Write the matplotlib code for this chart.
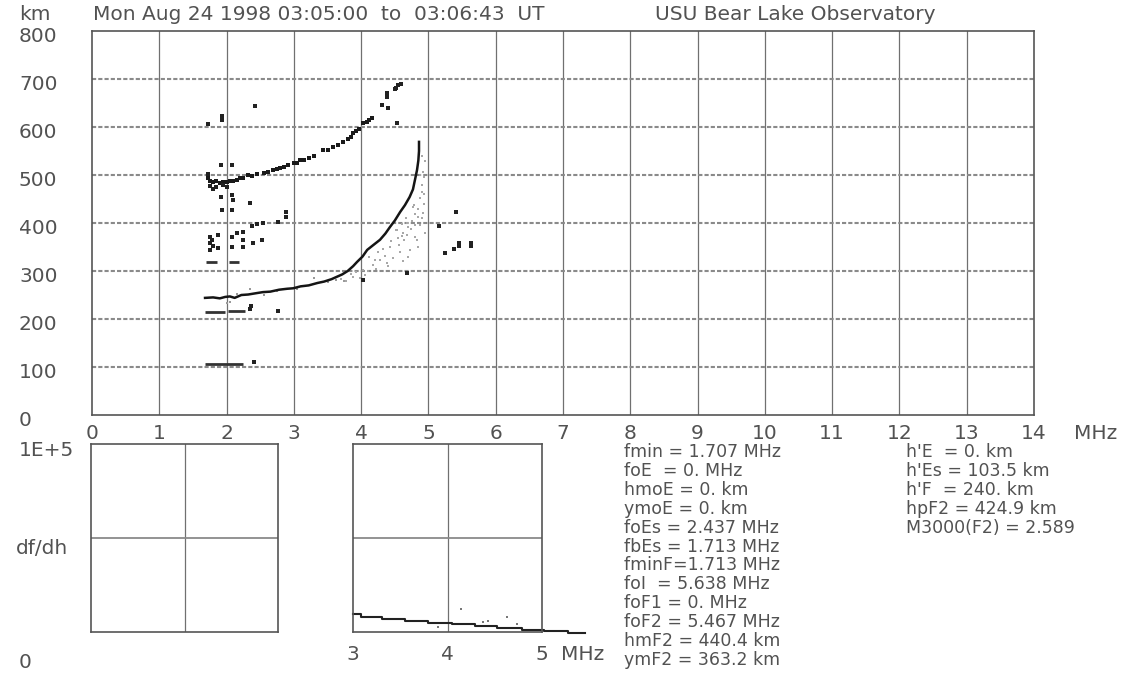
import numpy as np
import matplotlib.pyplot as plt
from matplotlib.transforms import blended_transform_factory

# ionogram: virtual height vs frequency
freq_ticks = list(range(0, 15))
height_ticks = list(range(0, 900, 100))

# main F-layer trace (O mode)
f_trace = [1.68, 1.80, 1.90, 1.98, 2.05, 2.12, 2.22, 2.32, 2.45, 2.54, 2.65, 2.78, 2.90, 2.99, 3.10, 3.22, 3.35,
           3.45, 3.56, 3.64, 3.72, 3.80, 3.88, 3.94, 4.02, 4.09, 4.18, 4.28, 4.36, 4.43, 4.50, 4.58, 4.65, 4.72,
           4.77, 4.80, 4.83, 4.85, 4.86, 4.86]
h_trace = [244, 245, 243, 246, 247, 244, 250, 251, 254, 256, 257, 261, 263, 264, 268, 270, 275,
           278, 283, 288, 293, 300, 310, 319, 330, 344, 354, 365, 378, 392, 405, 423, 437, 454,
           470, 490, 510, 530, 550, 569]

# faint secondary trace around the main one
f_xtrace = [2.00, 2.05, 2.15, 2.35, 2.55, 2.75, 3.05, 3.30, 3.50, 3.62, 3.75]
h_xtrace = [233, 236, 252, 262, 250, 258, 262, 285, 278, 282, 280]

# spread echoes below the F trace
f_spread = [3.70, 3.78, 3.85, 3.88, 3.92, 3.98, 4.03, 4.05, 4.10, 4.12, 4.18, 4.20, 4.25, 4.28, 4.35, 4.38,
            4.40, 4.43, 4.47, 4.50, 4.52, 4.53, 4.55, 4.58, 4.60, 4.62, 4.63, 4.66, 4.68, 4.70, 4.72, 4.75,
            4.77, 4.78, 4.80, 4.83, 4.84, 4.85, 4.88, 4.90, 4.90, 4.92, 4.93, 4.94, 4.95, 4.95, 4.88, 4.90,
            4.92, 4.70, 4.80, 4.62, 4.57, 4.85, 4.22, 4.33, 4.45, 4.60, 4.74, 4.87, 4.93, 4.68, 4.80, 4.91]
h_spread = [283, 280, 293, 288, 298, 286, 302, 292, 300, 330, 313, 322, 340, 323, 332, 317,
            310, 350, 327, 300, 385, 385, 368, 340, 398, 380, 365, 410, 400, 392, 344, 405,
            433, 438, 418, 365, 413, 430, 500, 465, 480, 506, 460, 495, 530, 380, 395, 540,
            420, 330, 370, 320, 355, 350, 305, 345, 362, 372, 388, 452, 440, 375, 395, 410]

# second-hop F trace
f_hop2 = [1.72, 1.76, 1.80, 1.85, 1.90, 1.95, 2.00, 2.05, 2.10, 2.15, 2.20, 2.25, 2.32, 2.38, 2.45, 2.55,
          2.62, 2.69, 2.75, 2.80, 2.86, 2.92, 3.00, 3.05, 3.09, 3.15, 3.22, 3.30, 3.43, 3.50, 3.58, 3.65,
          3.73, 3.80, 3.85, 3.88, 3.93, 3.97, 4.03, 4.08, 4.12, 4.16]
h_hop2 = [494, 487, 485, 488, 484, 486, 485, 488, 487, 490, 493, 494, 500, 497, 502, 505,
          507, 510, 512, 515, 517, 520, 524, 526, 531, 532, 535, 540, 552, 553, 558, 562,
          569, 575, 580, 587, 592, 596, 608, 611, 615, 619]

# isolated echoes
f_dots = [1.75, 1.85, 1.80, 1.95, 2.00, 1.72, 4.31, 4.40, 4.38, 4.38, 4.50, 4.52, 4.59, 4.55, 4.53, 2.42,
          1.72, 1.93, 1.93, 1.92, 2.08, 1.92, 2.08, 2.09, 1.93, 2.08, 2.35, 2.88, 2.88, 2.77, 2.54,
          2.38, 2.45, 2.24, 2.15, 2.08, 2.53, 2.40, 2.25, 2.25, 2.08, 1.75, 1.87, 1.75, 1.78, 1.75,
          1.87, 1.80, 2.35, 2.77, 2.36, 2.41, 5.41, 5.16, 5.25, 5.38, 5.45, 5.45, 5.63, 5.63, 4.68,
          4.03]
h_dots = [478, 474, 470, 480, 476, 502, 646, 640, 663, 670, 679, 682, 690, 687, 608, 644,
          606, 615, 622, 521, 521, 454, 458, 448, 427, 427, 442, 423, 413, 402, 400,
          394, 397, 381, 379, 371, 365, 358, 365, 350, 350, 371, 375, 358, 364, 344,
          348, 352, 221, 217, 228, 110, 423, 394, 338, 346, 358, 352, 358, 352, 296,
          281]

# sporadic-E traces (start, end, height)
es_segments = [(1.68, 2.25, 106), (1.68, 1.97, 215), (2.02, 2.27, 216), (1.70, 1.86, 319), (2.04, 2.18, 319)]

# df/dh profile panel
f_dfdh = [3.00, 3.08, 3.31, 3.55, 3.79, 4.05, 4.29, 4.52, 4.79, 5.02, 5.27, 5.46]
v_dfdh = [9600, 8000, 6900, 5900, 4800, 4300, 3200, 2100, 1100, 500, -500, -500]
f_dfdh_dots = [4.14, 3.90, 4.38, 4.43, 4.63, 4.74]
v_dfdh_dots = [12200, 2700, 5300, 5900, 8000, 4300]

params_left = ["fmin = 1.707 MHz", "foE  = 0. MHz", "hmoE = 0. km", "ymoE = 0. km", "foEs = 2.437 MHz",
               "fbEs = 1.713 MHz", "fminF=1.713 MHz", "foI  = 5.638 MHz", "foF1 = 0. MHz",
               "foF2 = 5.467 MHz", "hmF2 = 440.4 km", "ymF2 = 363.2 km"]
params_right = ["h'E  = 0. km", "h'Es = 103.5 km", "h'F  = 240. km", "hpF2 = 424.9 km",
                "M3000(F2) = 2.589"]

W, H = 1130, 673
plt.rcParams['font.family'] = ['DejaVu Sans']
TXT = '#525252'
GRID = '#8a8a8a'
FS = 14.5

fig = plt.figure(figsize=(W / 100, H / 100), dpi=100)


def box(l, t, r, b):
    return [l / W, 1 - b / H, (r - l) / W, (b - t) / H]


def ftext(x, y, s, **kw):
    fig.text(x / W, 1 - y / H, s, color=TXT, **kw)


def frame(a):
    a.set_xticks([])
    a.set_yticks([])
    for sp in a.spines.values():
        sp.set_color('#555555')
        sp.set_linewidth(1.2)


# main ionogram
ax = fig.add_axes(box(92, 31, 1034, 415))
ax.set_xlim(0, 14)
ax.set_ylim(0, 800)
frame(ax)
for v in freq_ticks[1:-1]:
    ax.axvline(v, color='#707070', lw=0.9, zorder=0)
for h in height_ticks[1:-1]:
    ax.axhline(h, color=GRID, lw=1.5, ls=(0, (2, 1)), zorder=0)

ax.scatter(f_spread, h_spread, s=3, marker='s', color='#a8a8a8', lw=0)
ax.scatter(f_xtrace, h_xtrace, s=3, marker='s', color='#999999', lw=0)
ax.plot(f_trace, h_trace, color='#151515', lw=1.8)
ax.scatter(f_hop2, h_hop2, s=6, marker='s', color='#1a1a1a', lw=0)
ax.scatter(f_dots, h_dots, s=6, marker='s', color='#222222', lw=0)
for f0, f1, h in es_segments:
    ax.plot([f0, f1], [h, h], color='#333333', lw=2.0, solid_capstyle='butt')

# axis labels drawn as text
xt = blended_transform_factory(ax.transData, ax.transAxes)
for v in freq_ticks:
    ax.text(v, -0.047, str(v), transform=xt, ha='center', va='center', fontsize=FS, color=TXT)
ax.text(14.6, -0.047, 'MHz', transform=xt, ha='left', va='center', fontsize=FS, color=TXT)
yt = blended_transform_factory(fig.transFigure, ax.transData)
for h in height_ticks:
    fig.text(19 / W, h - 12, str(h), transform=yt, ha='left', va='center', fontsize=FS, color=TXT)

ftext(19, 14, 'km', fontsize=FS, va='center')
ftext(93, 14, 'Mon Aug 24 1998 03:05:00  to  03:06:43  UT', fontsize=FS, va='center')
ftext(655, 14, 'USU Bear Lake Observatory', fontsize=FS, va='center')

# df/dh panels
ax_l = fig.add_axes(box(91, 444, 278, 632))
ax_l.set_xlim(0, 1)
ax_l.set_ylim(0, 1e5)
frame(ax_l)
ax_l.axvline(0.5, color='#707070', lw=0.9)
ax_l.axhline(5e4, color=GRID, lw=1.3)

ax_r = fig.add_axes(box(353, 444, 542, 632))
ax_r.set_xlim(3, 5)
ax_r.set_ylim(0, 1e5)
frame(ax_r)
ax_r.axvline(4, color='#707070', lw=0.9)
ax_r.axhline(5e4, color=GRID, lw=1.3)
ax_r.step(f_dfdh, v_dfdh, where='post', color='#222222', lw=1.5, clip_on=False)
ax_r.scatter(f_dfdh_dots, v_dfdh_dots, s=3, marker='s', color='#777777', lw=0)
rt = blended_transform_factory(ax_r.transData, ax_r.transAxes)
for v in [3, 4, 5]:
    ax_r.text(v, -0.12, str(v), transform=rt, ha='center', va='center', fontsize=FS, color=TXT)
ax_r.text(5.2, -0.12, 'MHz', transform=rt, ha='left', va='center', fontsize=FS, color=TXT)

ftext(19, 450, '1E+5', fontsize=FS, va='center')
ftext(16, 549, 'df/dh', fontsize=FS, va='center')
ftext(19, 662, '0', fontsize=FS, va='center')

# scaled parameters
for i, s in enumerate(params_left):
    ftext(624, 452 + i * 18.9, s, fontsize=12.5, va='center')
for i, s in enumerate(params_right):
    ftext(906, 452 + i * 18.9, s, fontsize=12.5, va='center')

fig.savefig('out.png', dpi=100, facecolor='white')
